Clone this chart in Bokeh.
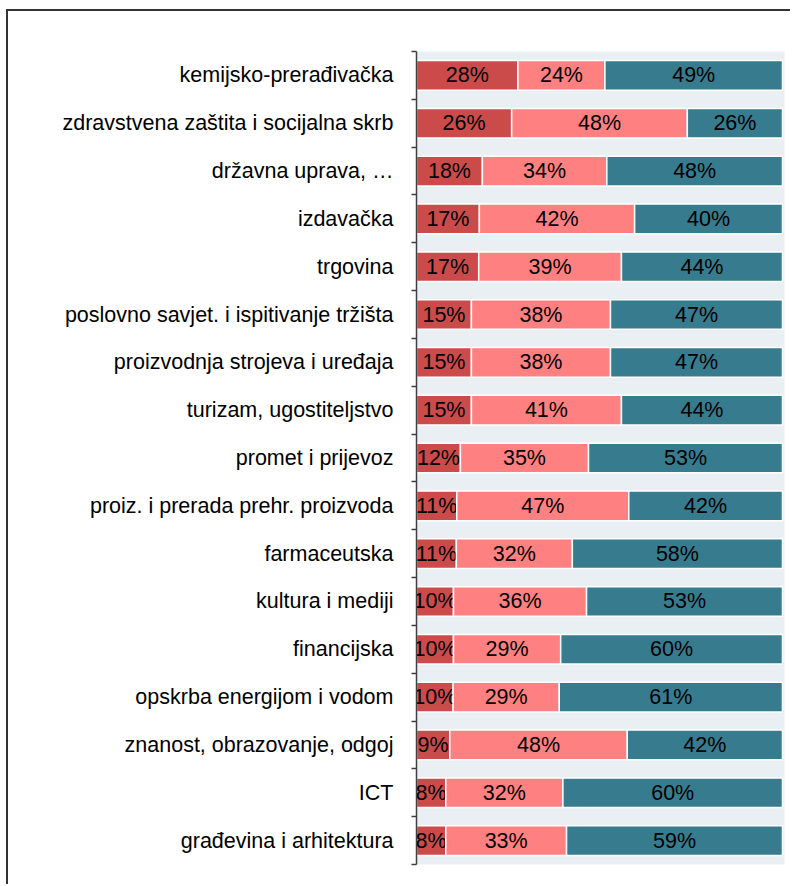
import numpy as np
from bokeh.plotting import figure
from bokeh.models import ColumnDataSource, FixedTicker, Range1d
from bokeh.core.properties import value
from bokeh.embed import file_html
from bokeh.resources import INLINE

# Categories listed top to bottom
categories = [
    "kemijsko-prerađivačka",
    "zdravstvena zaštita i socijalna skrb",
    "državna uprava, …",
    "izdavačka",
    "trgovina",
    "poslovno savjet. i ispitivanje tržišta",
    "proizvodnja strojeva i uređaja",
    "turizam, ugostiteljstvo",
    "promet i prijevoz",
    "proiz. i prerada prehr. proizvoda",
    "farmaceutska",
    "kultura i mediji",
    "financijska",
    "opskrba energijom i vodom",
    "znanost, obrazovanje, odgoj",
    "ICT",
    "građevina i arhitektura",
]
share_first = [28, 26, 18, 17, 17, 15, 15, 15, 12, 11, 11, 10, 10, 10, 9, 8, 8]
share_second = [24, 48, 34, 42, 39, 38, 38, 41, 35, 47, 32, 36, 29, 29, 48, 32, 33]
share_third = [49, 26, 48, 40, 44, 47, 47, 44, 53, 42, 58, 53, 60, 61, 42, 60, 59]

colors = ["#CB4B4B", "#FF8080", "#377B8F"]

n = len(categories)
a = np.array(share_first, dtype=float)
b = np.array(share_second, dtype=float)
c = np.array(share_third, dtype=float)
tot = a + b + c
fa, fb, fc = a / tot, b / tot, c / tot
ypos = [n - 1 - i for i in range(n)]

segments = []
starts = np.zeros(n)
for frac, vals, col in [(fa, share_first, colors[0]), (fb, share_second, colors[1]), (fc, share_third, colors[2])]:
    ends = starts + frac
    segments.append(dict(left=starts.copy(), right=ends.copy(), y=ypos,
                         mid=(starts + ends) / 2, lab=[f"{v}%" for v in vals], col=col))
    starts = ends

p = figure(width=784, height=875, output_backend="svg", toolbar_location=None,
           x_range=Range1d(0, 1.0055), y_range=Range1d(-0.5, n - 0.5),
           min_border_left=408, min_border_right=8, min_border_top=40, min_border_bottom=22)
p.styles = {"border-left": "2px solid #333333", "border-top": "2px solid #333333",
            "margin-left": "6px", "margin-top": "9px"}

p.background_fill_color = "#E9EFF3"
p.border_fill_color = "white"
p.outline_line_color = None
p.xgrid.visible = False
p.ygrid.visible = False
p.xaxis.visible = False

for seg in segments:
    src = ColumnDataSource(dict(left=seg["left"], right=seg["right"], y=seg["y"],
                                mid=seg["mid"], lab=seg["lab"]))
    p.hbar(y="y", left="left", right="right", height=0.62, source=src,
           fill_color=seg["col"], line_color="white", line_width=1.5)
    p.text(x="mid", y="y", text="lab", source=src, text_align="center",
           text_baseline="middle", text_font=value("Liberation Sans"),
           text_font_size="21.5px", text_color="black")

ax = p.yaxis[0]
ax.ticker = FixedTicker(ticks=ypos, minor_ticks=[k - 0.5 for k in range(n + 1)])
ax.major_label_overrides = {y: name for y, name in zip(ypos, categories)}
ax.major_tick_line_color = None
ax.major_tick_in = 0
ax.major_tick_out = 0
ax.minor_tick_in = 0
ax.minor_tick_out = 5
ax.minor_tick_line_color = "#404040"
ax.minor_tick_line_width = 1.5
ax.axis_line_color = "#404040"
ax.axis_line_width = 1.5
ax.major_label_standoff = 18
ax.major_label_text_font = "Liberation Sans"
ax.major_label_text_font_size = "21.5px"
ax.major_label_text_color = "black"

open("out.html", "w").write(file_html(p, INLINE))
